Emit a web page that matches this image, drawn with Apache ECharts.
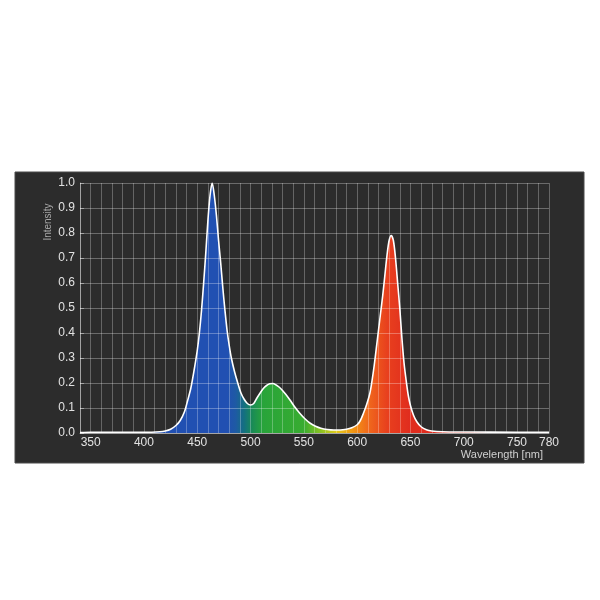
<!DOCTYPE html>
<html><head><meta charset="utf-8">
<script src="https://cdn.jsdelivr.net/npm/echarts@6/dist/echarts.min.js"></script>
<style>html,body{margin:0;padding:0;background:#fff;}#c{width:600px;height:600px;}</style>
</head><body><div id="c"></div>
<script>
var wavelengths = [340,350,400,415,420,425,430,434,438,441,444,447,450,452,454,456,458,460,462,464,466,468,470,472,474,476,478,480,482,485,488,491,494,497,500,503,506,509,512,515,518,521,524,527,530,533,537,541,546,551,556,561,566,572,578,584,590,595,600,603,606,609,612,614,616,618,620,622,624,626,628,630,632,634,636,638,640,642,644,646,648,650,653,656,660,665,670,680,700,750,780];
var intensity = [0.002,0.003,0.003,0.005,0.008,0.015,0.03,0.05,0.085,0.13,0.18,0.25,0.33,0.40,0.49,0.60,0.72,0.85,0.95,1.0,0.95,0.87,0.77,0.68,0.58,0.49,0.41,0.35,0.30,0.245,0.20,0.16,0.135,0.118,0.112,0.118,0.14,0.16,0.178,0.19,0.197,0.198,0.192,0.183,0.17,0.155,0.132,0.107,0.08,0.057,0.039,0.027,0.019,0.014,0.012,0.012,0.015,0.021,0.033,0.05,0.08,0.115,0.16,0.21,0.27,0.34,0.41,0.48,0.55,0.63,0.71,0.77,0.79,0.77,0.70,0.60,0.50,0.38,0.28,0.21,0.15,0.11,0.07,0.045,0.025,0.013,0.008,0.005,0.004,0.003,0.003];
var xLabelValues = [350,400,450,500,550,600,650,700,750,780];
var yTicks = [0.0,0.1,0.2,0.3,0.4,0.5,0.6,0.7,0.8,0.9,1.0];
// spectral colour stops: [wavelength, colour]
var spectrumStops = [[340,'#2150b2'],[478,'#2150b2'],[486,'#1e5aa4'],[494,'#147080'],[502,'#1a8c55'],[512,'#28a43a'],[550,'#38ac30'],[566,'#8cc222'],[580,'#e0cc1c'],[595,'#f29a12'],[610,'#f06a1c'],[628,'#e8401e'],[650,'#e02c1e'],[780,'#e02c1e']];

var xMin = 340, xMax = 780;
var data = wavelengths.map(function(w,i){return [w,intensity[i]];});
var stops = spectrumStops.map(function(s){return {offset:(s[0]-xMin)/(xMax-xMin), color:s[1]};});

var chart = echarts.init(document.getElementById('c'), null, {renderer:'canvas'});
var font = 'Liberation Sans, Arial, sans-serif';
chart.setOption({
  backgroundColor:'#ffffff',
  animation:false,
  graphic:[
    {type:'rect', z:-10, shape:{x:15,y:172,width:569,height:291}, style:{fill:'#2c2c2c', stroke:'#4a4a4a', lineWidth:1}},
    {type:'text', z:10, x:48, y:222, rotation:Math.PI/2, style:{text:'Intensity', fill:'#a8a8a8', font:'10px '+font, align:'center', verticalAlign:'middle'}},
    {type:'text', z:10, x:543, y:455, style:{text:'Wavelength [nm]', fill:'#d0d0d0', font:'11px '+font, align:'right', verticalAlign:'middle'}}
  ],
  grid:{left:80, right:51, top:183, bottom:167, containLabel:false},
  xAxis:{
    type:'value', min:xMin, max:xMax, interval:10, z:10,
    axisLine:{show:true, lineStyle:{color:'rgba(255,255,255,0.4)'}},
    axisTick:{show:false},
    splitLine:{show:true, lineStyle:{color:'rgba(255,255,255,0.27)', width:1}},
    axisLabel:{color:'#e2e2e2', fontFamily:font, fontSize:12, margin:4,
      formatter:function(v){return xLabelValues.indexOf(v)>=0 ? String(v) : '';}}
  },
  yAxis:{
    type:'value', min:0, max:1, interval:0.1, z:10,
    axisLine:{show:true, lineStyle:{color:'rgba(255,255,255,0.4)'}},
    axisTick:{show:true, inside:true, length:4, lineStyle:{color:'rgba(255,255,255,0.4)'}},
    splitLine:{show:true, lineStyle:{color:'rgba(255,255,255,0.3)', width:1}},
    axisLabel:{color:'#e2e2e2', fontFamily:font, fontSize:12, margin:5,
      formatter:function(v){return v.toFixed(1);}}
  },
  series:[{
    type:'line', data:data, smooth:0.3, showSymbol:false, z:2,
    lineStyle:{color:'#ffffff', width:1.6},
    areaStyle:{opacity:1, color:new echarts.graphic.LinearGradient(0,0,1,0,stops)}
  }]
});
</script></body></html>
